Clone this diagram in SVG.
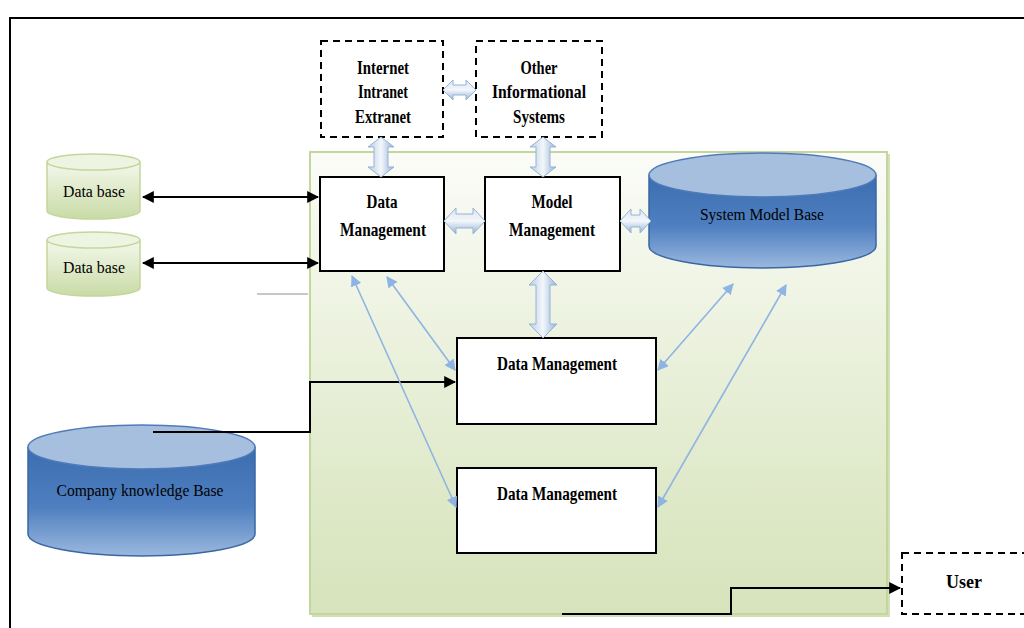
<svg xmlns="http://www.w3.org/2000/svg" width="1024" height="628" viewBox="0 0 1024 628">
<defs>
<style>
.b{font-family:"Liberation Serif","Times New Roman",serif;font-weight:bold;font-size:19px;fill:#000;text-anchor:middle}
.r{font-family:"Liberation Serif","Times New Roman",serif;font-size:17px;fill:#000;text-anchor:middle}
.box{fill:#fff;stroke:#000;stroke-width:2}
.dash{fill:#fff;stroke:#000;stroke-width:2;stroke-dasharray:7,5}
.blk{fill:none;stroke:#000;stroke-width:2}
.thin{fill:none;stroke:#8eb4e3;stroke-width:1.6;marker-start:url(#ba);marker-end:url(#ba)}
.fat{fill:url(#fatg);stroke:#95b3d7;stroke-width:1}
.fatv{fill:url(#fatgv);stroke:#95b3d7;stroke-width:1}
</style>
<linearGradient id="panel" x1="0" y1="0" x2="0" y2="1">
<stop offset="0" stop-color="#fbfcf8"/><stop offset="0.7" stop-color="#e0eacb"/><stop offset="1" stop-color="#d6e3bb"/>
</linearGradient>
<linearGradient id="gbody" x1="0" y1="0" x2="0" y2="1">
<stop offset="0" stop-color="#f4f8ec"/><stop offset="1" stop-color="#c9dba6"/>
</linearGradient>
<linearGradient id="bbody" x1="0" y1="0" x2="0" y2="1">
<stop offset="0" stop-color="#3a6db0"/><stop offset="0.55" stop-color="#4f7fc0"/><stop offset="1" stop-color="#9ab8de"/>
</linearGradient>
<linearGradient id="fatg" x1="0" y1="0" x2="0" y2="1">
<stop offset="0" stop-color="#dbe5f1"/><stop offset="0.5" stop-color="#f4f7fb"/><stop offset="1" stop-color="#95b3d7"/>
</linearGradient>
<linearGradient id="fatgv" x1="0" y1="0" x2="1" y2="0">
<stop offset="0" stop-color="#b8cce4"/><stop offset="0.5" stop-color="#f4f7fb"/><stop offset="1" stop-color="#95b3d7"/>
</linearGradient>
<marker id="ka" viewBox="0 0 10 10" refX="9" refY="5" markerWidth="6" markerHeight="6" orient="auto-start-reverse" markerUnits="strokeWidth">
<path d="M0,0 L10,5 L0,10 z" fill="#000"/>
</marker>
<marker id="ba" viewBox="0 0 10 10" refX="9" refY="5" markerWidth="7" markerHeight="7" orient="auto-start-reverse" markerUnits="strokeWidth">
<path d="M0,0 L10,5 L0,10 z" fill="#8eb4e3"/>
</marker>
</defs>
<rect width="1024" height="628" fill="#fff"/>
<path d="M10,628 V18 H1024" fill="none" stroke="#000" stroke-width="2"/>

<g id="panel-main">
<rect x="312" y="154" width="578" height="463" fill="#b5c98e" opacity="0.6"/>
<rect x="310" y="152" width="577" height="462" fill="url(#panel)" stroke="#c3d69b" stroke-width="2"/>
</g>
<line x1="257" y1="294" x2="308" y2="294" stroke="#c8c8c8" stroke-width="2"/>

<g id="internet">
<rect class="dash" x="321" y="41" width="122" height="96"/>
<text class="b" x="383" y="74" textLength="52" lengthAdjust="spacingAndGlyphs">Internet</text>
<text class="b" x="383" y="98" textLength="50" lengthAdjust="spacingAndGlyphs">Intranet</text>
<text class="b" x="383" y="123" textLength="56" lengthAdjust="spacingAndGlyphs">Extranet</text>
</g>
<g id="other">
<rect class="dash" x="476" y="41" width="126" height="96"/>
<text class="b" x="539" y="74" textLength="37" lengthAdjust="spacingAndGlyphs">Other</text>
<text class="b" x="539" y="98" textLength="94" lengthAdjust="spacingAndGlyphs">Informational</text>
<text class="b" x="539" y="123" textLength="52" lengthAdjust="spacingAndGlyphs">Systems</text>
</g>

<g id="db1">
<path d="M47,162 V211 A46.5,8 0 0 0 140,211 V162" fill="url(#gbody)" stroke="#c3d69b" stroke-width="1.5"/>
<ellipse cx="93.5" cy="162" rx="46.5" ry="8" fill="#eef4e2" stroke="#c3d69b" stroke-width="1.5"/>
<text class="r" x="94" y="197" textLength="62" lengthAdjust="spacingAndGlyphs">Data base</text>
</g>
<g id="db2">
<path d="M47,240 V288 A46.5,8 0 0 0 140,288 V240" fill="url(#gbody)" stroke="#c3d69b" stroke-width="1.5"/>
<ellipse cx="93.5" cy="240" rx="46.5" ry="8" fill="#eef4e2" stroke="#c3d69b" stroke-width="1.5"/>
<text class="r" x="94" y="273" textLength="62" lengthAdjust="spacingAndGlyphs">Data base</text>
</g>

<g id="data-mgmt">
<rect class="box" x="320" y="177" width="124" height="94"/>
<text class="b" x="382" y="208" textLength="31" lengthAdjust="spacingAndGlyphs">Data</text>
<text class="b" x="383" y="236" textLength="86" lengthAdjust="spacingAndGlyphs">Management</text>
</g>
<g id="model-mgmt">
<rect class="box" x="485" y="177" width="135" height="94"/>
<text class="b" x="552" y="208" textLength="41" lengthAdjust="spacingAndGlyphs">Model</text>
<text class="b" x="552" y="236" textLength="86" lengthAdjust="spacingAndGlyphs">Management</text>
</g>

<g id="system-model-base">
<path d="M649,175 V246 A113.5,22 0 0 0 876,246 V175" fill="url(#bbody)" stroke="#3a67a3" stroke-width="1.5"/>
<ellipse cx="762.5" cy="175" rx="113.5" ry="22" fill="#a7bfde" stroke="#4f7bb8" stroke-width="1.5"/>
<text class="r" x="762" y="220" textLength="124" lengthAdjust="spacingAndGlyphs">System Model Base</text>
</g>

<g id="company-kb">
<path d="M28,447 V534 A113.5,22 0 0 0 255,534 V447" fill="url(#bbody)" stroke="#3a67a3" stroke-width="1.5"/>
<ellipse cx="141.5" cy="447" rx="113.5" ry="22" fill="#a7bfde" stroke="#4f7bb8" stroke-width="1.5"/>
<text class="r" x="140" y="496" textLength="167" lengthAdjust="spacingAndGlyphs">Company knowledge Base</text>
</g>

<g id="data-mgmt-2">
<rect class="box" x="457" y="338" width="199" height="86"/>
<text class="b" x="557" y="370" textLength="120" lengthAdjust="spacingAndGlyphs">Data Management</text>
</g>
<g id="data-mgmt-3">
<rect class="box" x="457" y="468" width="199" height="85"/>
<text class="b" x="557" y="500" textLength="120" lengthAdjust="spacingAndGlyphs">Data Management</text>
</g>

<g id="user">
<rect class="dash" x="902" y="553" width="140" height="61"/>
<text class="b" x="964" y="588" textLength="36" lengthAdjust="spacingAndGlyphs">User</text>
</g>

<g id="connectors">
<line class="blk" x1="143" y1="197" x2="318" y2="197" marker-start="url(#ka)" marker-end="url(#ka)"/>
<line class="blk" x1="143" y1="263" x2="318" y2="263" marker-start="url(#ka)" marker-end="url(#ka)"/>
<polyline class="blk" points="153,432 310,432 310,382 455,382" stroke-width="1.5" marker-end="url(#ka)"/>
<polyline class="blk" points="562,614 731,614 731,588 900,588" marker-end="url(#ka)"/>

<path class="fat" d="M443,90 L453,80 V85 H466 V80 L476,90 L466,100 V95 H453 V100 Z"/>
<path class="fatv" d="M381,137 L394,147 H388 V167 H394 L381,177 L368,167 H374 V147 H368 Z"/>
<path class="fatv" d="M543,137 L556,147 H550 V167 H556 L543,177 L530,167 H536 V147 H530 Z"/>
<path class="fat" d="M444,221 L456,208 V214 H473 V208 L485,221 L473,234 V228 H456 V234 Z"/>
<path class="fat" d="M620,221 L631,209 V215 H640 V209 L651,221 L640,233 V227 H631 V233 Z"/>
<path class="fatv" d="M543,271 L557,285 H550 V324 H557 L543,338 L529,324 H536 V285 H529 Z"/>

<line class="thin" x1="352" y1="276" x2="456" y2="507"/>
<line class="thin" x1="387" y1="277" x2="455" y2="370"/>
<line class="thin" x1="733" y1="284" x2="658" y2="370"/>
<line class="thin" x1="786" y1="285" x2="658" y2="507"/>
</g>
</svg>
